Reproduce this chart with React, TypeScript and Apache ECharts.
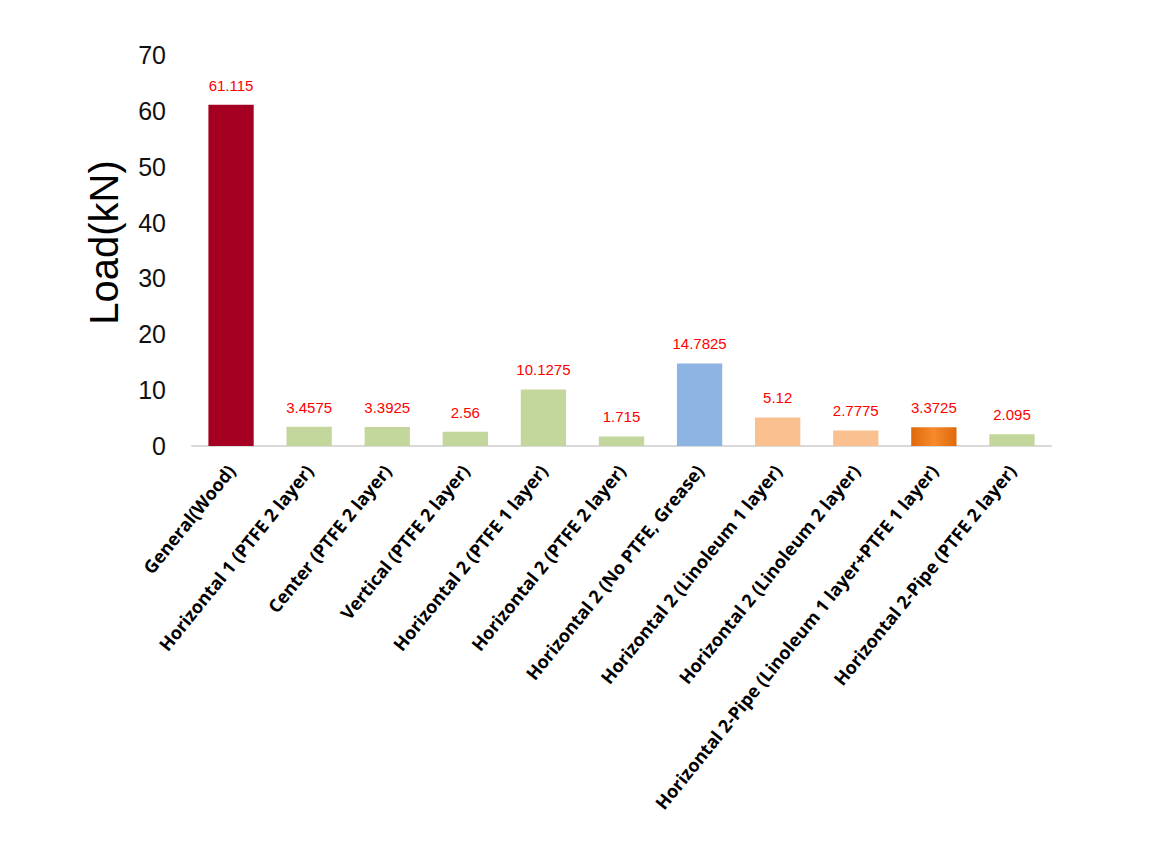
import React, { useEffect, useRef } from "react";
import * as echarts from "echarts";

const categories = [
  "General(Wood)",
  "Horizontal 1 (PTFE 2 layer)",
  "Center (PTFE 2 layer)",
  "Vertical (PTFE 2 layer)",
  "Horizontal 2 (PTFE 1 layer)",
  "Horizontal 2 (PTFE 2 layer)",
  "Horizontal 2 (No PTFE, Grease)",
  "Horizontal 2 (Linoleum 1 layer)",
  "Horizontal 2 (Linoleum 2 layer)",
  "Horizontal 2-Pipe (Linoleum 1 layer+PTFE 1 layer)",
  "Horizontal 2-Pipe (PTFE 2 layer)",
];

const loads = [61.115, 3.4575, 3.3925, 2.56, 10.1275, 1.715, 14.7825, 5.12, 2.7775, 3.3725, 2.095];

const labelTexts = ["61.115", "3.4575", "3.3925", "2.56", "10.1275", "1.715", "14.7825", "5.12", "2.7775", "3.3725", "2.095"];

const barColorKeys = ["wood", "green", "green", "green", "green", "green", "blue", "peach", "peach", "orange", "green"];

const yAxisName = "Load(kN)";

export default function App() {
  const ref = useRef<HTMLDivElement>(null);

  useEffect(() => {
    if (!ref.current) return;
    const chart = echarts.init(ref.current, null, { renderer: "svg" });
    const palette: Record<string, any> = {
      wood: "#A50021",
      green: "#C3D69B",
      blue: "#8DB4E2",
      peach: "#FAC090",
      orange: new echarts.graphic.LinearGradient(0, 0, 1, 0, [
        { offset: 0, color: "#E0690A" },
        { offset: 0.5, color: "#F68A2C" },
        { offset: 1, color: "#E0690A" },
      ]),
    };
    chart.setOption({
      animation: false,
      backgroundColor: "#ffffff",
      grid: { left: 192, right: 100, top: 55, bottom: 398, containLabel: false },
      xAxis: {
        type: "category",
        data: categories,
        axisLine: { show: true, lineStyle: { color: "#D9D9D9", width: 2 } },
        axisTick: { show: false },
        axisLabel: {
          interval: 0,
          rotate: 51,
          margin: 21,
          color: "#000000",
          fontFamily: "'Open Sans', 'DejaVu Sans', sans-serif",
          fontWeight: "bold",
          fontSize: 18,
        },
      },
      yAxis: {
        type: "value",
        min: 0,
        max: 70,
        interval: 10,
        name: yAxisName,
        nameLocation: "middle",
        nameRotate: 90,
        nameGap: 68,
        nameTextStyle: {
          fontFamily: "'Liberation Sans', Arial, sans-serif",
          fontSize: 40,
          color: "#000000",
          padding: [0, 0, 0, 16],
        },
        axisLine: { show: false },
        axisTick: { show: false },
        splitLine: { show: false },
        axisLabel: {
          margin: 26,
          color: "#111111",
          fontFamily: "'Liberation Sans', sans-serif",
          fontSize: 25,
        },
      },
      series: [
        {
          type: "bar",
          barWidth: "58%",
          data: loads.map((v, i) => ({
            value: v,
            itemStyle: { color: palette[barColorKeys[i]] },
            label: { formatter: labelTexts[i] },
          })),
          label: {
            show: true,
            position: "top",
            distance: 12,
            color: "#FF0000",
            fontFamily: "'Liberation Sans', sans-serif",
            fontSize: 15,
          },
        },
      ],
    });
    return () => chart.dispose();
  }, []);

  return (
    <div
      ref={ref}
      style={{ position: "fixed", left: 0, top: 0, width: 1151, height: 844, background: "#fff" }}
    />
  );
}
